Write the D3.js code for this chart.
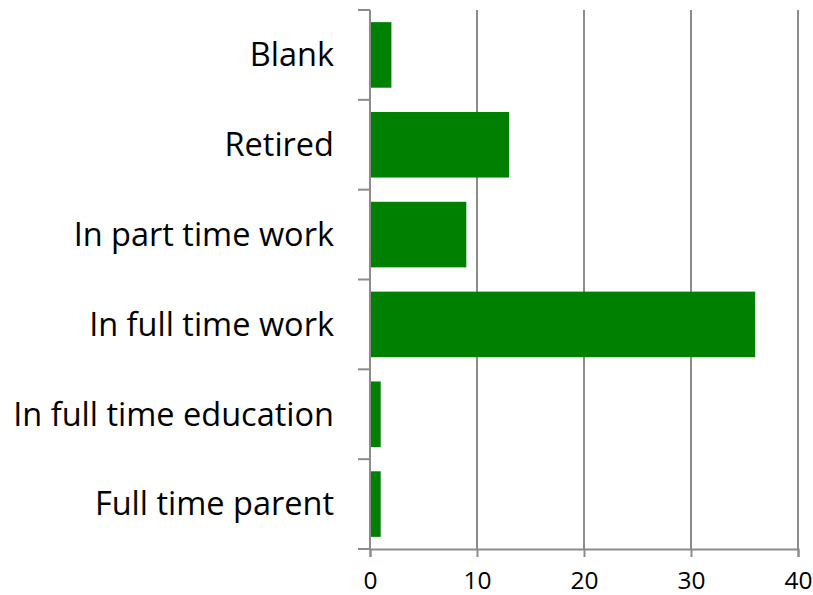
<!DOCTYPE html>
<html>
<head>
<meta charset="utf-8">
<script src="https://cdn.jsdelivr.net/npm/d3@7"></script>
<style>
  body { margin: 0; background: #fff; }
  svg text { font-family: "Open Sans", sans-serif; fill: #000; font-variant-ligatures: none; }
</style>
</head>
<body>
<div id="chart"></div>
<script>
// categories listed top to bottom
const categories = ['Blank', 'Retired', 'In part time work', 'In full time work', 'In full time education', 'Full time parent'];
const counts = [2, 13, 9, 36, 1, 1];
const xTicks = [0, 10, 20, 30, 40];

const width = 813, height = 595;
const margin = { top: 10, right: 15, bottom: 46, left: 370 };
const innerW = 798 - margin.left;
const innerH = 549 - margin.top;
const gridColor = '#8c8c8c';
const barColor = '#008000';

const svg = d3.select('#chart').append('svg')
    .attr('width', width)
    .attr('height', height);

const g = svg.append('g')
    .attr('transform', `translate(${margin.left},${margin.top})`);

const xScale = d3.scaleLinear().domain([0, 40]).range([0, innerW]);
const yScale = d3.scaleBand()
    .domain(categories)
    .range([0, innerH])
    .paddingInner(0.27)
    .paddingOuter(0.135);

// vertical gridlines
g.selectAll('.grid')
    .data(xTicks.slice(1))
    .enter()
    .append('line')
    .attr('class', 'grid')
    .attr('x1', d => xScale(d))
    .attr('x2', d => xScale(d))
    .attr('y1', 0)
    .attr('y2', innerH)
    .attr('stroke', gridColor)
    .attr('stroke-width', 2);

// bars
g.selectAll('.bar')
    .data(categories)
    .enter()
    .append('rect')
    .attr('class', 'bar')
    .attr('x', xScale(0))
    .attr('y', d => yScale(d))
    .attr('width', (d, i) => xScale(counts[i]) - xScale(0))
    .attr('height', yScale.bandwidth())
    .attr('fill', barColor);

// x axis
const xAxis = d3.axisBottom(xScale)
    .tickValues(xTicks)
    .tickSize(8)
    .tickPadding(15);

const xg = g.append('g')
    .attr('class', 'x-axis')
    .attr('transform', `translate(0,${innerH})`)
    .call(xAxis);
xg.select('.domain').attr('stroke', gridColor).attr('stroke-width', 2);
xg.selectAll('.tick line').attr('stroke', gridColor).attr('stroke-width', 2);
xg.selectAll('.tick text').attr('font-size', '24.5px').attr('font-family', '"Open Sans", sans-serif');

// y axis: ticks sit on the band boundaries
const boundaries = d3.range(categories.length + 1).map(i => i * innerH / categories.length);

g.append('line')
    .attr('x1', 0).attr('x2', 0)
    .attr('y1', 0).attr('y2', innerH)
    .attr('stroke', gridColor)
    .attr('stroke-width', 2);

g.selectAll('.ytick')
    .data(boundaries)
    .enter()
    .append('line')
    .attr('class', 'ytick')
    .attr('x1', -12).attr('x2', 0)
    .attr('y1', d => d).attr('y2', d => d)
    .attr('stroke', gridColor)
    .attr('stroke-width', 2);

g.selectAll('.ylabel')
    .data(categories)
    .enter()
    .append('text')
    .attr('class', 'ylabel')
    .attr('x', -36)
    .attr('y', d => yScale(d) + yScale.bandwidth() / 2)
    .attr('dy', '0.35em')
    .attr('text-anchor', 'end')
    .attr('font-size', '32.5px')
    .text(d => d);
</script>
</body>
</html>
